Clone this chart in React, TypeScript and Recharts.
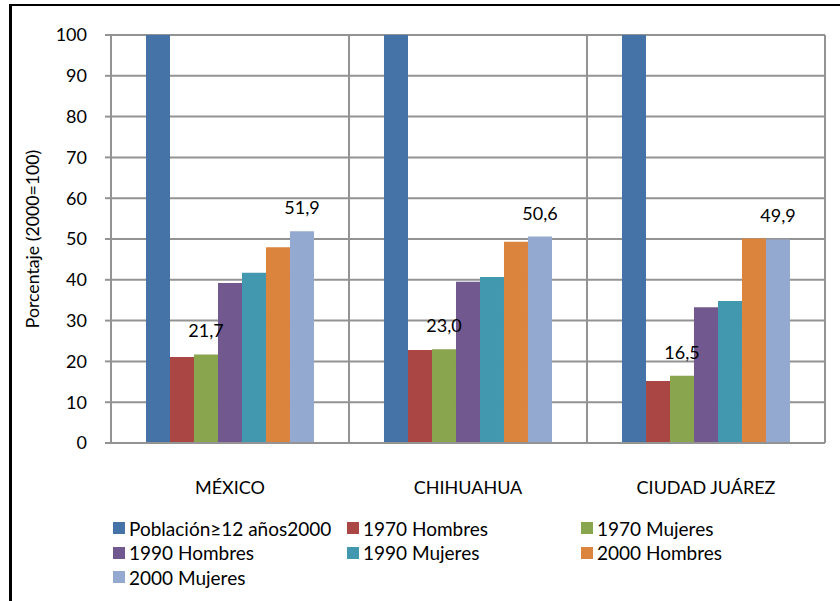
import React from 'react'
import {
  BarChart,
  Bar,
  XAxis,
  YAxis,
  CartesianGrid,
  Legend,
  LabelList,
} from 'recharts'

const categories = ['MÉXICO', 'CHIHUAHUA', 'CIUDAD JUÁREZ']

const poblacion2000 = [100, 100, 100]
const hombres1970 = [21.1, 22.8, 15.2]
const mujeres1970 = [21.7, 23.0, 16.5]
const hombres1990 = [39.2, 39.5, 33.3]
const mujeres1990 = [41.7, 40.7, 34.8]
const hombres2000 = [48.0, 49.3, 50.1]
const mujeres2000 = [51.9, 50.6, 49.9]

const yTicks = [0, 10, 20, 30, 40, 50, 60, 70, 80, 90, 100]

const series = [
  { key: 'pob', name: 'Población≥12 años2000', values: poblacion2000, color: '#4572A7', label: false },
  { key: 'h70', name: '1970 Hombres', values: hombres1970, color: '#AA4643', label: false },
  { key: 'm70', name: '1970 Mujeres', values: mujeres1970, color: '#89A54E', label: true },
  { key: 'h90', name: '1990 Hombres', values: hombres1990, color: '#71588F', label: false },
  { key: 'm90', name: '1990 Mujeres', values: mujeres1990, color: '#4198AF', label: false },
  { key: 'h00', name: '2000 Hombres', values: hombres2000, color: '#DB843D', label: false },
  { key: 'm00', name: '2000 Mujeres', values: mujeres2000, color: '#93A9CF', label: true },
]

const data = categories.map((category, i) => {
  const row: Record<string, string | number> = { category }
  series.forEach((s) => {
    row[s.key] = s.values[i]
  })
  return row
})

const fontFamily = 'Lato, "Open Sans", sans-serif'
const gridColor = '#939393'

const formatValue = (v: any) => Number(v).toFixed(1).replace('.', ',')

function LegendContent() {
  return (
    <div
      style={{
        display: 'grid',
        gridTemplateColumns: '234px 234px 234px',
        gridAutoRows: '24.5px',
        fontFamily,
        fontSize: 19,
        color: '#000',
      }}
    >
      {series.map((s) => (
        <div key={s.key} style={{ display: 'flex', alignItems: 'center', whiteSpace: 'nowrap' }}>
          <span
            style={{
              display: 'inline-block',
              width: 12,
              height: 12,
              background: s.color,
              marginRight: 4,
            }}
          />
          <span>{s.name}</span>
        </div>
      ))}
    </div>
  )
}

export default function App() {
  return (
    <div
      style={{
        position: 'absolute',
        left: 0,
        top: 0,
        width: 840,
        height: 601,
        overflow: 'hidden',
        background: '#fff',
      }}
    >
      <div
        style={{
          position: 'absolute',
          left: 9,
          top: 4,
          width: 900,
          height: 700,
          borderLeft: '3px solid #000',
          borderTop: '2px solid #000',
        }}
      />
      <div style={{ position: 'absolute', left: 0, top: 0 }}>
        <BarChart
          width={840}
          height={601}
          data={data}
          margin={{ top: 35, right: 15, bottom: 0, left: 0 }}
          barCategoryGap="14.7%"
          barGap={0}
          style={{ fontFamily }}
        >
          <CartesianGrid
            stroke={gridColor}
            strokeWidth={2}
            horizontal={true}
            vertical={true}
            verticalCoordinatesGenerator={({ offset }: any) =>
              categories.map((_, i) => offset.left + ((i + 1) * offset.width) / categories.length)
            }
          />
          <XAxis
            dataKey="category"
            height={158}
            tickLine={false}
            tickMargin={32}
            axisLine={{ stroke: gridColor, strokeWidth: 2 }}
            tick={{ fontSize: 18, fontFamily, fill: '#000' }}
          />
          <YAxis
            width={111}
            domain={[0, 100]}
            ticks={yTicks}
            interval={0}
            tickSize={6}
            tickMargin={18}
            tickLine={{ stroke: gridColor, strokeWidth: 2 }}
            axisLine={{ stroke: gridColor, strokeWidth: 2 }}
            tick={{ fontSize: 18, fontFamily, fill: '#000' }}
            label={{
              value: 'Porcentaje (2000=100)',
              angle: -90,
              position: 'center',
              dx: -23,
              style: { fontSize: 17.7, fontFamily, fill: '#000' },
            }}
          />
          <Legend
            layout="horizontal"
            verticalAlign="middle"
            width={702}
            wrapperStyle={{ top: 516, left: 113, width: 702 }}
            content={() => <LegendContent />}
          />
          {series.map((s) => (
            <Bar key={s.key} dataKey={s.key} name={s.name} fill={s.color} isAnimationActive={false}>
              {s.label && (
                <LabelList
                  dataKey={s.key}
                  position="top"
                  offset={17}
                  formatter={formatValue}
                  style={{ fontSize: 18, fontFamily, fill: '#000' }}
                />
              )}
            </Bar>
          ))}
        </BarChart>
      </div>
    </div>
  )
}
